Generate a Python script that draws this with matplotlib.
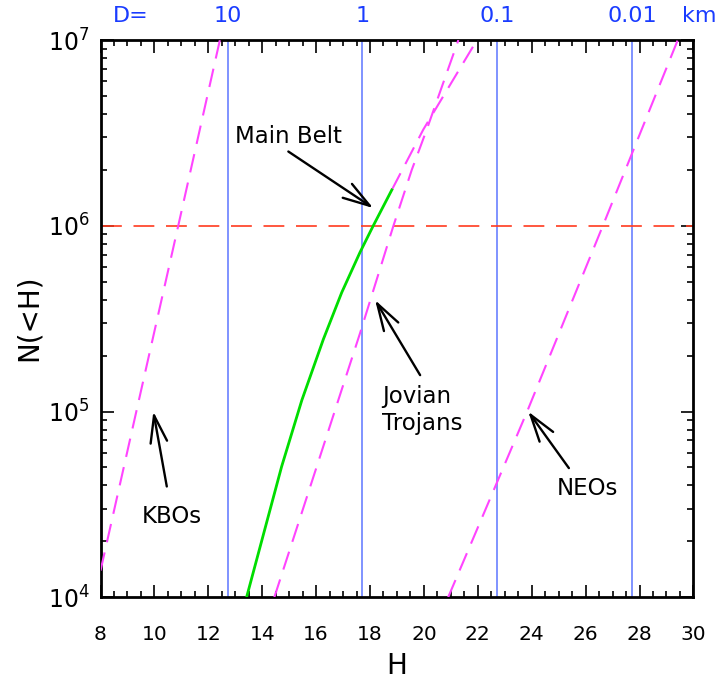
import matplotlib
matplotlib.use('Agg')
import matplotlib.pyplot as plt
import matplotlib.transforms as mtransforms
from matplotlib.ticker import MultipleLocator, LogLocator, NullFormatter

# cumulative size distributions, N(<H)
h_kbo = [8.0, 9.28, 10.85, 12.43]
n_kbo = [1.39e4, 9.3e4, 9.5e5, 1.0e7]

h_mb = [13.42, 14.72, 15.47, 16.27, 16.95, 17.63, 18.12, 18.81]
n_mb = [1.0e4, 5.05e4, 1.15e5, 2.45e5, 4.37e5, 7.2e5, 1.0e6, 1.56e6]

h_mb_ext = [18.81, 19.98, 21.97]
n_mb_ext = [1.56e6, 3.3e6, 1.0e7]

h_troj = [14.45, 15.90, 17.63, 18.86, 19.55, 20.10, 21.28]
n_troj = [1.0e4, 4.45e4, 2.64e5, 9.9e5, 2.0e6, 3.28e6, 1.0e7]

h_neo = [20.90, 23.83, 26.64, 29.42]
n_neo = [1.0e4, 1.0e5, 1.0e6, 1.0e7]

# diameters (albedo ~0.14) and their H
d_labels = ['10', '1', '0.1', '0.01']
h_diam = [12.72, 17.72, 22.72, 27.72]

n_limit = 1.0e6

plt.rcParams['font.family'] = 'DejaVu Sans'

fig = plt.figure(figsize=(7.18, 6.86), dpi=100)
ax = fig.add_axes([100.5 / 718, 1 - 597.3 / 686, (693.4 - 100.5) / 718, (597.3 - 40) / 686])

blue = '#6a80ff'
magenta = '#ff44ff'
for h in h_diam:
    ax.axvline(h, color=blue, lw=1.2, zorder=1)

ax.axhline(n_limit, color='#ff3b1f', lw=1.2, dashes=(12.5, 7), zorder=2)

for hh, nn in [(h_kbo, n_kbo), (h_mb_ext, n_mb_ext), (h_troj, n_troj), (h_neo, n_neo)]:
    ax.plot(hh, nn, color=magenta, lw=1.5, dashes=(9, 5), zorder=3)
ax.plot(h_mb, n_mb, color='#00dd00', lw=2.0, zorder=4)

ax.set_xlim(8, 30)
ax.set_yscale('log')
ax.set_ylim(1e4, 1e7)

ax.xaxis.set_major_locator(MultipleLocator(2))
ax.xaxis.set_minor_locator(MultipleLocator(0.5))
ax.yaxis.set_major_locator(LogLocator(base=10))
ax.yaxis.set_minor_locator(LogLocator(base=10, subs=range(2, 10)))
ax.yaxis.set_minor_formatter(NullFormatter())
ax.tick_params(which='both', direction='in', top=True, right=True, width=1.2, color='black')
ax.tick_params(which='major', length=9)
ax.tick_params(which='minor', length=4.5)
ax.tick_params(axis='x', labelsize=14.5, pad=20)
ax.tick_params(axis='y', labelsize=17, pad=8)
for sp in ax.spines.values():
    sp.set_linewidth(2)

fig.text(397 / 718, 1 - 666 / 686, 'H', fontsize=20, ha='center', va='center')
fig.text(29 / 718, 1 - 318 / 686, 'N(<H)', fontsize=20, rotation=90, ha='center', va='center')

# diameter scale along the top
dblue = '#1a3cff'
trans = mtransforms.blended_transform_factory(ax.transData, fig.transFigure)
ytop = 1 - 22 / 686
fig.text(112.5 / 718, ytop, 'D=', fontsize=16, color=dblue, ha='left', va='baseline')
for h, lab in zip(h_diam, d_labels):
    ax.text(h, ytop, lab, transform=trans, fontsize=16, color=dblue, ha='center', va='baseline')
fig.text(682 / 718, ytop, 'km', fontsize=16, color=dblue, ha='left', va='baseline')

# labels and arrows
arrow = dict(arrowstyle='->,head_length=1.3,head_width=0.4', lw=1.7, color='black',
             shrinkA=0, shrinkB=0, mutation_scale=15)
ax.text(12.99, 2.79e6, 'Main Belt', fontsize=16.5, ha='left', va='baseline')
ax.annotate('', xy=(18.12, 1.245e6), xytext=(14.97, 2.51e6), arrowprops=arrow)

ax.text(18.45, 1.11e5, 'Jovian', fontsize=16.5, ha='left', va='baseline')
ax.text(18.45, 8.0e4, 'Trojans', fontsize=16.5, ha='left', va='baseline')
ax.annotate('', xy=(18.19, 3.98e5), xytext=(19.86, 1.57e5), arrowprops=arrow)

ax.text(9.53, 2.5e4, 'KBOs', fontsize=16.5, ha='left', va='baseline')
ax.annotate('', xy=(9.96, 1.0e5), xytext=(10.46, 3.95e4), arrowprops=arrow)

ax.text(24.93, 3.56e4, 'NEOs', fontsize=16.5, ha='left', va='baseline')
ax.annotate('', xy=(23.87, 1.0e5), xytext=(25.38, 4.96e4), arrowprops=arrow)

fig.savefig('out.png', dpi=100)
